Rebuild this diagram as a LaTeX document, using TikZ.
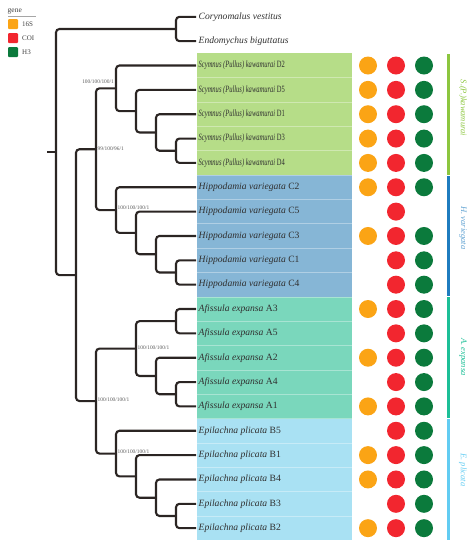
\documentclass[tikz,border=0pt]{standalone}
\usepackage{fontspec}
\setmainfont{Liberation Serif}
\usepackage{graphicx}
\definecolor{treec}{HTML}{2B2523}
\definecolor{tipc}{HTML}{303030}
\definecolor{c16s}{HTML}{FBA415}
\definecolor{ccoi}{HTML}{F2262F}
\definecolor{ch3}{HTML}{0B7A3C}
\definecolor{bandS}{HTML}{B6DD88}
\definecolor{bandH}{HTML}{86B6D6}
\definecolor{bandA}{HTML}{7AD7BC}
\definecolor{bandE}{HTML}{A9E1F3}
\definecolor{barS}{HTML}{8CC63F}
\definecolor{barH}{HTML}{1F7CBF}
\definecolor{barA}{HTML}{1DBF97}
\definecolor{barE}{HTML}{62CCF2}
\begin{document}
\begin{tikzpicture}[x=1pt,y=-1pt,
  branch/.style={draw=treec, line width=2.1pt, rounded corners=3.5pt},
  tip/.style={anchor=west, inner sep=0pt, xshift=2.5pt, text=tipc, font=\fontsize{9.6}{10}\selectfont},
  supp/.style={inner sep=0.5pt, text=black!65, font=\fontsize{5.4}{6}\selectfont},
  dot/.style={circle, inner sep=0pt, minimum size=18pt},
  legsq/.style={rounded corners=1pt, inner sep=0pt, minimum size=10pt},
  legtx/.style={anchor=west, inner sep=0pt, text=black!75, font=\fontsize{7}{8}\selectfont},
  grp/.style={rotate=-90, inner sep=0pt, font=\itshape\fontsize{8.5}{9}\selectfont},
  sep/.style={draw=white, draw opacity=0.35, line width=0.6pt}]
\useasboundingbox (0,0) rectangle (472,550);

% colour bands
\fill[bandS] (197,53.33) rectangle (352,175.08);
\fill[bandH] (197,175.08) rectangle (352,296.83);
\fill[bandA] (197,296.83) rectangle (352,418.58);
\fill[bandE] (197,418.58) rectangle (352,540.33);
\foreach \k in {3,...,21}{
  \pgfmathsetmacro\yy{16.8+24.35*\k-12.175}
  \draw[sep] (197,\yy) -- (352,\yy);
}

% legend
\node[anchor=west, inner sep=0pt, text=black!75, font=\fontsize{7.5}{8}\selectfont] (gene) at (7.5,11) {gene};
\coordinate (gl1) at (8,16.5);
\coordinate (gl2) at (36,16.5);
\draw[black!35, line width=0.4pt] (gl1) -- (gl2);
\node[legsq, fill=c16s] (lo) at (13,24) {};
\node[legsq, fill=ccoi] (lr) at (13,38) {};
\node[legsq, fill=ch3] (lg) at (13,52) {};
\node[legtx] (lot) at (22,24) {16S};
\node[legtx] (lrt) at (22,38) {COI};
\node[legtx] (lgt) at (22,52) {H3};

% tip end coordinates
\foreach \k in {0,...,21}{
  \pgfmathsetmacro\yy{16.8+24.35*\k}
  \coordinate (k\k) at (196,\yy);
}

% tip labels
\node[tip] (t0) at (k0) {\itshape Corynomalus vestitus};
\node[tip] (t1) at (k1) {\itshape Endomychus biguttatus};
\node[tip] (t2) at (k2) {\scalebox{0.68}[1]{\itshape Scymnus (Pullus) kawamurai \upshape D2}};
\node[tip] (t3) at (k3) {\scalebox{0.68}[1]{\itshape Scymnus (Pullus) kawamurai \upshape D5}};
\node[tip] (t4) at (k4) {\scalebox{0.68}[1]{\itshape Scymnus (Pullus) kawamurai \upshape D1}};
\node[tip] (t5) at (k5) {\scalebox{0.68}[1]{\itshape Scymnus (Pullus) kawamurai \upshape D3}};
\node[tip] (t6) at (k6) {\scalebox{0.68}[1]{\itshape Scymnus (Pullus) kawamurai \upshape D4}};
\node[tip] (t7) at (k7) {\itshape Hippodamia variegata \upshape C2};
\node[tip] (t8) at (k8) {\itshape Hippodamia variegata \upshape C5};
\node[tip] (t9) at (k9) {\itshape Hippodamia variegata \upshape C3};
\node[tip] (t10) at (k10) {\itshape Hippodamia variegata \upshape C1};
\node[tip] (t11) at (k11) {\itshape Hippodamia variegata \upshape C4};
\node[tip] (t12) at (k12) {\itshape Afissula expansa \upshape A3};
\node[tip] (t13) at (k13) {\itshape Afissula expansa \upshape A5};
\node[tip] (t14) at (k14) {\itshape Afissula expansa \upshape A2};
\node[tip] (t15) at (k15) {\itshape Afissula expansa \upshape A4};
\node[tip] (t16) at (k16) {\itshape Afissula expansa \upshape A1};
\node[tip] (t17) at (k17) {\itshape Epilachna plicata \upshape B5};
\node[tip] (t18) at (k18) {\itshape Epilachna plicata \upshape B1};
\node[tip] (t19) at (k19) {\itshape Epilachna plicata \upshape B4};
\node[tip] (t20) at (k20) {\itshape Epilachna plicata \upshape B3};
\node[tip] (t21) at (k21) {\itshape Epilachna plicata \upshape B2};

% internal nodes
\coordinate (og) at (176,28.975);
\coordinate (s4) at (176,150.725);
\coordinate (s3) at (156,132.46);
\coordinate (s2) at (136,111.16);
\coordinate (s1) at (116,88.33);
\coordinate (h4) at (176,272.475);
\coordinate (h3) at (156,254.21);
\coordinate (h2) at (136,232.91);
\coordinate (h1) at (116,210.08);
\coordinate (n99) at (96,149.2);
\coordinate (a3) at (176,321.175);
\coordinate (a4) at (176,394.225);
\coordinate (a2) at (156,375.96);
\coordinate (a1) at (136,348.57);
\coordinate (e4) at (176,515.975);
\coordinate (e3) at (156,497.71);
\coordinate (e2) at (136,476.41);
\coordinate (e1) at (116,453.58);
\coordinate (nl) at (96,401.07);
\coordinate (ni) at (76,275.14);
\coordinate (rt) at (56,152.06);
\coordinate (rs) at (47,152.06);

% branches
\draw[branch] (k0) -| (og) |- (k1);
\draw[branch] (k5) -| (s4) |- (k6);
\draw[branch] (k4) -| (s3) |- (s4);
\draw[branch] (k3) -| (s2) |- (s3);
\draw[branch] (k2) -| (s1) |- (s2);
\draw[branch] (k10) -| (h4) |- (k11);
\draw[branch] (k9) -| (h3) |- (h4);
\draw[branch] (k8) -| (h2) |- (h3);
\draw[branch] (k7) -| (h1) |- (h2);
\draw[branch] (s1) -| (n99) |- (h1);
\draw[branch] (k12) -| (a3) |- (k13);
\draw[branch] (k15) -| (a4) |- (k16);
\draw[branch] (k14) -| (a2) |- (a4);
\draw[branch] (a3) -| (a1) |- (a2);
\draw[branch] (k20) -| (e4) |- (k21);
\draw[branch] (k19) -| (e3) |- (e4);
\draw[branch] (k18) -| (e2) |- (e3);
\draw[branch] (k17) -| (e1) |- (e2);
\draw[branch] (a1) -| (nl) |- (e1);
\draw[branch] (n99) -| (ni) |- (nl);
\draw[branch] (og) -| (rt) |- (ni);
\draw[branch] (rs) -- (rt);

% support values
\node[supp, anchor=east] (l1) at (114.5,82) {100/100/100/1};
\node[supp, anchor=west] (l2) at (97,149.2) {99/100/96/1};
\node[supp, anchor=west] (l3) at (117,207.5) {100/100/100/1};
\node[supp, anchor=west] (l4) at (137,348) {100/100/100/1};
\node[supp, anchor=west] (l5) at (97,400) {100/100/100/1};
\node[supp, anchor=west] (l6) at (117,452) {100/100/100/1};

% gene dots
\foreach \k/\o/\g in {2/1/1,3/1/1,4/1/1,5/1/1,6/1/1,7/1/1,8/0/0,9/1/1,10/0/1,11/0/1,
                      12/1/1,13/0/1,14/1/1,15/0/1,16/1/1,17/0/1,18/1/1,19/1/1,20/0/1,21/1/1}{
  \pgfmathsetmacro\yy{16.8+24.35*\k}
  \node[dot, fill=ccoi] (r\k) at (396,\yy) {};
  \ifnum\o=1 \node[dot, fill=c16s] (o\k) at (368,\yy) {}; \fi
  \ifnum\g=1 \node[dot, fill=ch3] (g\k) at (424,\yy) {}; \fi
}

% clade bars
\fill[barS] (447,53.8) rectangle (449.5,174.6);
\fill[barH] (447,175.6) rectangle (449.5,296.3);
\fill[barA] (447,297.3) rectangle (449.5,418.1);
\fill[barE] (447,419.1) rectangle (449.5,540);
\node[grp, text=barS] (gS) at (463,108) {S.(P.)kawamurai};
\node[grp, text=barH!70] (gH) at (463,228) {H. variegata};
\node[grp, text=barA] (gA) at (463,357) {A. expansa};
\node[grp, text=barE] (gE) at (463,470) {E. plicata};
\end{tikzpicture}
\end{document}
